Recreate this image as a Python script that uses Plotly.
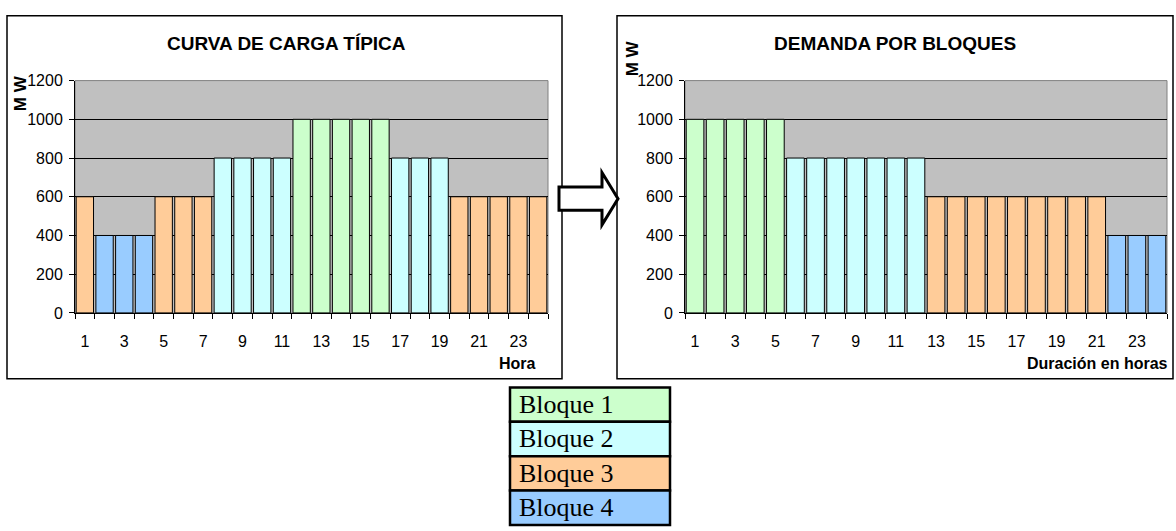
import plotly.graph_objects as go

# ---- data -------------------------------------------------------------
horas = list(range(1, 25))

# hourly load curve (MW)
demanda_horaria = [600, 400, 400, 400, 600, 600, 600, 800, 800, 800, 800,
                   1000, 1000, 1000, 1000, 1000, 800, 800, 800,
                   600, 600, 600, 600, 600]
bloque_horario = [3, 4, 4, 4, 3, 3, 3, 2, 2, 2, 2,
                  1, 1, 1, 1, 1, 2, 2, 2,
                  3, 3, 3, 3, 3]

# load-duration curve by blocks (MW)
demanda_bloques = [1000, 1000, 1000, 1000, 1000,
                   800, 800, 800, 800, 800, 800, 800,
                   600, 600, 600, 600, 600, 600, 600, 600, 600,
                   400, 400, 400]
bloque_duracion = [1, 1, 1, 1, 1,
                   2, 2, 2, 2, 2, 2, 2,
                   3, 3, 3, 3, 3, 3, 3, 3, 3,
                   4, 4, 4]

etiquetas_x = [1, 3, 5, 7, 9, 11, 13, 15, 17, 19, 21, 23]
etiquetas_y = [0, 200, 400, 600, 800, 1000, 1200]
nombres_bloque = ["Bloque 1", "Bloque 2", "Bloque 3", "Bloque 4"]

colores = {1: "#CCFFCC", 2: "#CCFFFF", 3: "#FFCC99", 4: "#99CCFF"}

# ---- page geometry (pixels) -------------------------------------------
W, H = 1176, 531
FONT = "Liberation Sans, Arial"


def px(x):
    return x / W


def py(y):
    return 1 - y / H


fig = go.Figure()

fig.add_trace(go.Bar(
    x=horas, y=demanda_horaria, xaxis="x", yaxis="y",
    marker=dict(color=[colores[b] for b in bloque_horario],
                line=dict(color="black", width=1)),
    showlegend=False, hoverinfo="x+y"))

fig.add_trace(go.Bar(
    x=horas, y=demanda_bloques, xaxis="x2", yaxis="y2",
    marker=dict(color=[colores[b] for b in bloque_duracion],
                line=dict(color="black", width=1)),
    showlegend=False, hoverinfo="x+y"))

tickfont = dict(family=FONT, size=16, color="black")


def eje_x(dom):
    return dict(domain=dom, range=[0.5, 24.5], tickmode="array",
                tickvals=etiquetas_x, ticktext=[str(v) for v in etiquetas_x],
                ticks="", showgrid=False, zeroline=False,
                showline=True, linecolor="black", linewidth=1,
                tickfont=tickfont, ticklabelstandoff=14,
                minor=dict(ticks="outside", tick0=0.5, dtick=1, ticklen=5,
                           tickcolor="black", showgrid=False))


def eje_y(dom, anchor):
    return dict(domain=dom, range=[0, 1200], tickmode="array",
                tickvals=etiquetas_y, anchor=anchor,
                ticks="outside", ticklen=5, tickcolor="black",
                showgrid=True, gridcolor="black", gridwidth=1,
                zeroline=False, showline=True, linecolor="black",
                linewidth=1, tickfont=tickfont, ticklabelstandoff=3)


ydom = [py(315), py(75)]
fig.update_layout(
    width=W, height=H,
    margin=dict(l=0, r=0, t=0, b=0),
    paper_bgcolor="white", plot_bgcolor="#C0C0C0",
    bargap=0.12,
    xaxis=eje_x([px(75), px(548)]),
    yaxis=eje_y(ydom, "x"),
    xaxis2=dict(eje_x([px(685), px(1167)]), anchor="y2"),
    yaxis2=eje_y(ydom, "x2"),
)
fig.layout.xaxis.anchor = "y"

shapes = []
# chart frames
for x0, x1 in [(7, 562), (617, 1173)]:
    shapes.append(dict(type="rect", xref="paper", yref="paper",
                       x0=px(x0), x1=px(x1), y0=py(383), y1=py(8),
                       line=dict(color="black", width=1.5), layer="below"))
# plot-area borders
for x0, x1 in [(75, 548), (685, 1167)]:
    shapes.append(dict(type="rect", xref="paper", yref="paper",
                       x0=px(x0), x1=px(x1), y0=py(315), y1=py(75),
                       line=dict(color="#808080", width=1), layer="below"))

# block arrow between the two charts
pts = [(559, 185), (602, 185), (602, 170), (618, 197),
       (602, 224), (602, 209), (559, 209)]
path = "M " + " L ".join(f"{px(a):.5f},{py(b):.5f}" for a, b in pts) + " Z"
shapes.append(dict(type="path", xref="paper", yref="paper", path=path,
                   fillcolor="white", line=dict(color="black", width=3)))

# legend table
fila = 35.5
top = 392
for i, nombre in enumerate(nombres_bloque):
    y0 = top + i * fila
    shapes.append(dict(type="rect", xref="paper", yref="paper",
                       x0=px(510), x1=px(670), y0=py(y0 + fila), y1=py(y0),
                       fillcolor=colores[i + 1],
                       line=dict(color="black", width=2.5)))
fig.update_layout(shapes=shapes)

ann = []
bold = dict(family=FONT, color="black")
ann.append(dict(text="<b>CURVA DE CARGA TÍPICA</b>", x=px(286), y=py(37),
                font=dict(bold, size=19)))
ann.append(dict(text="<b>DEMANDA POR BLOQUES</b>", x=px(895), y=py(37),
                font=dict(bold, size=19)))
ann.append(dict(text="<b>M W</b>", x=px(20), y=py(88), textangle=-90,
                font=dict(bold, size=17)))
ann.append(dict(text="<b>M W</b>", x=px(632), y=py(52), textangle=-90,
                font=dict(bold, size=17)))
ann.append(dict(text="<b>Hora</b>", x=px(538), y=py(367), xanchor="right",
                font=dict(bold, size=16)))
ann.append(dict(text="<b>Duración en horas</b>", x=px(1170), y=py(367),
                xanchor="right", font=dict(bold, size=16)))
for i, nombre in enumerate(nombres_bloque):
    ann.append(dict(text=nombre, x=px(517), y=py(top + i * fila + fila / 2),
                    xanchor="left",
                    font=dict(family="Liberation Serif, Times New Roman",
                              size=26, color="black")))
for a in ann:
    a.update(xref="paper", yref="paper", showarrow=False,
             xanchor=a.get("xanchor", "center"), yanchor="middle")
fig.update_layout(annotations=ann)

fig.write_html("out.html")
